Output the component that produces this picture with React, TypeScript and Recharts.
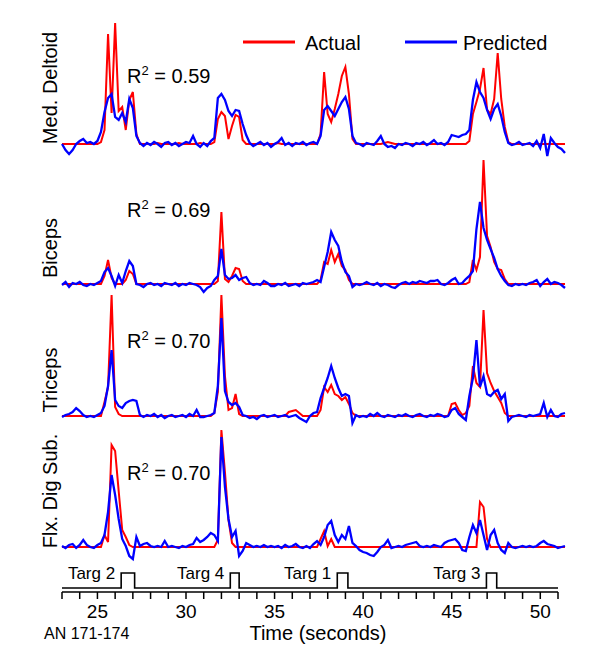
import { LineChart, Line, XAxis, YAxis, ReferenceDot } from 'recharts';

const FONT = "'Liberation Sans', Arial, Helvetica, sans-serif";

// sample times (s)
const TIME = [
  23.0, 23.2, 23.4, 23.6, 23.8, 24.0, 24.2, 24.4, 24.6, 24.8,
  25.0, 25.2, 25.4, 25.6, 25.8, 26.0, 26.2, 26.4, 26.6, 26.8,
  27.0, 27.2, 27.4, 27.6, 27.8, 28.0, 28.2, 28.4, 28.6, 28.8,
  29.0, 29.2, 29.4, 29.6, 29.8, 30.0, 30.2, 30.4, 30.6, 30.8,
  31.0, 31.2, 31.4, 31.6, 31.8, 32.0, 32.2, 32.4, 32.6, 32.8,
  33.0, 33.2, 33.4, 33.6, 33.8, 34.0, 34.2, 34.4, 34.6, 34.8,
  35.0, 35.2, 35.4, 35.6, 35.8, 36.0, 36.2, 36.4, 36.6, 36.8,
  37.0, 37.2, 37.4, 37.6, 37.8, 38.0, 38.2, 38.4, 38.6, 38.8,
  39.0, 39.2, 39.4, 39.6, 39.8, 40.0, 40.2, 40.4, 40.6, 40.8,
  41.0, 41.2, 41.4, 41.6, 41.8, 42.0, 42.2, 42.4, 42.6, 42.8,
  43.0, 43.2, 43.4, 43.6, 43.8, 44.0, 44.2, 44.4, 44.6, 44.8,
  45.0, 45.2, 45.4, 45.6, 45.8, 46.0, 46.2, 46.4, 46.6, 46.8,
  47.0, 47.2, 47.4, 47.6, 47.8, 48.0, 48.2, 48.4, 48.6, 48.8,
  49.0, 49.2, 49.4, 49.6, 49.8, 50.0, 50.2, 50.4, 50.6, 50.8,
  51.0, 51.2, 51.4,
];

// Med. Deltoid
const DELTOID_ACTUAL = [
  0, 0, 0, 0, 0, 0, 0, 0, 0, 0,
  0, 2, 14, 110, 31, 121, 33, 37, 14, 44,
  52, 10, 0, 0, 0, 0, 0, 1, 0, 0,
  0, 0, 0, 1, 0, 0, 0, 0, 0, 1,
  0, 0, 0, 2, 25, 32, 28, 5, 18, 29,
  27, 4, 0, 0, 0, 0, 0, 0, 0, 0,
  0, 1, 0, 0, 0, 0, 0, 0, 0, 0,
  0, 0, 0, 10, 72, 30, 22, 35, 50, 68,
  77, 50, 5, 0, 0, 0, 0, 0, 0, 0,
  0, 1, 2, 1, 0, 0, 0, 0, 0, 0,
  0, 0, 0, 0, 0, 0, 0, 0, 0, 0,
  0, 0, 0, 0, 0, 3, 30, 42, 55, 76,
  34, 30, 45, 91, 45, 17, 2, 0, 0, 0,
  0, 0, 0, 0, 0, 0, 0, 0, 0, 0,
  0, 0, 0,
];
const DELTOID_PREDICTED = [
  0, -6, -10, -6, 0, 3, 5, 1, 2, 0,
  3, 12, 32, 46, 50, 27, 24, 31, 22, 45,
  36, 8, 1, -2, 1, -1, 2, 0, -3, 1,
  2, -1, 1, -2, 0, 2, 1, 8, 0, -3,
  1, -2, 3, 6, 46, 50, 44, 33, 28, 34,
  33, 20, 9, 1, -2, 0, 2, -1, 1, -3,
  0, 2, 6, -1, 1, -2, 1, 0, 2, -1,
  1, 2, 0, 8, 34, 38, 33, 28, 35, 42,
  47, 35, 8, 1, 0, -2, 1, 0, -1, 3,
  8, 0, -3, -2, -4, 0, -1, 1, 0, -2,
  1, 0, 2, -1, 1, 4, 0, 1, -1, 2,
  9, 8, 7, 9, 10, 14, 44, 62, 52, 46,
  34, 25, 35, 40, 28, 12, 1, -1, 0, 2,
  -1, 0, 1, -2, 3, -4, 10, -12, 6, 1,
  -3, -5, -9,
];

// Biceps
const BICEPS_ACTUAL = [
  0, 0, 0, 0, 0, 0, 0, 0, 0, 0,
  0, 0, 8, 24, 6, 0, 0, 0, 4, 13,
  10, 0, 0, 0, 0, 0, 0, 0, 0, 0,
  0, 0, 0, 0, 0, 0, 0, 0, 0, 0,
  0, 0, 0, 0, 3, 72, 5, 2, 8, 16,
  15, 3, 0, 0, 0, 0, 0, 0, 0, 0,
  0, 0, 0, 0, 0, 0, 0, 0, 0, 0,
  0, 0, 0, 4, 22, 20, 34, 22, 30, 18,
  14, 4, 0, 0, 0, 0, 0, 0, 0, 0,
  0, 0, 0, 0, 0, 0, 0, 0, 0, 0,
  0, 0, 0, 0, 0, 0, 0, 0, 0, 0,
  0, 0, 0, 0, 0, 2, 24, 14, 27, 124,
  48, 37, 22, 15, 14, 5, 0, 0, 0, 0,
  0, 0, 0, 0, 0, 0, 0, 0, 0, 0,
  0, 0, 0,
];
const BICEPS_PREDICTED = [
  -1, 2, -3, 1, 0, 2, -1, -2, 0, -1,
  1, 3, 12, 16, 8, -2, 9, 1, 13, 23,
  18, 0, -1, -3, 0, 1, -1, 0, -2, 1,
  0, -1, 1, -2, 0, -1, 1, 0, -1, -3,
  -8, -4, -2, 4, 8, 35, 9, 5, 6, 9,
  4, 6, 7, 1, -1, 0, -1, 3, 1, -2,
  -2, 0, -1, 1, -2, -1, 0, -2, 1, 0,
  1, 2, 4, 2, 17, 32, 52, 44, 38, 22,
  12, 8, -3, 0, -1, 0, 2, 0, -1, 1,
  -2, 0, -1, -3, -4, -1, 1, 2, 0, 2,
  1, 3, 2, 1, 3, 3, 4, 0, -1, 1,
  4, 6, 0, 1, 5, 8, 13, 55, 82, 56,
  44, 35, 26, 15, 8, 3, -1, -2, 0, -1,
  0, -1, 1, 2, 4, -2, 2, 5, 0, 2,
  1, -1, -4,
];

// Triceps
const TRICEPS_ACTUAL = [
  0, 0, 0, 0, 0, 0, 0, 0, 0, 0,
  0, 0, 14, 29, 121, 9, 2, 0, 0, 0,
  0, 0, 0, 0, 0, 0, 0, 0, 0, 0,
  0, 0, 0, 0, 0, 0, 0, 0, 0, 0,
  0, 0, 0, 3, 24, 121, 40, 6, 8, 22,
  2, 0, 0, 0, 0, 0, 0, 0, 0, 0,
  0, 0, 0, 0, 4, 5, 6, 3, 0, 0,
  0, 0, 0, 6, 29, 24, 31, 22, 20, 16,
  19, 12, 3, 0, 0, 0, 0, 0, 0, 0,
  0, 0, 0, 0, 0, 0, 0, 0, 0, 0,
  0, 0, 0, 0, 0, 0, 0, 0, 0, 0,
  12, 13, 6, 1, 3, 10, 50, 33, 29, 106,
  43, 33, 25, 19, 13, 3, 0, 0, 0, 0,
  0, 0, 0, 0, 0, 0, 0, 0, 0, 0,
  0, 0, 0,
];
const TRICEPS_PREDICTED = [
  -1, 1, 2, 4, 8, 5, 1, -1, 0, -1,
  1, 3, 10, 30, 66, 16, 10, 8, 13, 15,
  16, 15, 1, -1, 1, 0, 2, -1, 1, -2,
  0, 1, -1, 0, 1, -1, 2, 0, 6, -1,
  -1, 0, 1, 3, 30, 98, 25, 14, 11, 13,
  9, 1, 0, -2, -1, -3, 0, 1, -1, 0,
  1, -1, 0, 1, -1, 0, 1, -2, -4, -6,
  0, 3, 4, 18, 28, 38, 50, 38, 28, 20,
  22, 20, -7, 1, -1, 0, -1, 2, 0, 3,
  0, -1, 1, 0, -1, 1, 0, 2, 0, -1,
  1, 2, 0, -1, 1, 0, 2, 1, -1, 0,
  6, 8, 2, -1, -4, 20, 38, 76, 29, 40,
  22, 20, 24, 26, 17, 22, -5, -1, 0, 1,
  0, -1, 1, 0, 1, 2, 13, -1, 6, 0,
  -1, 2, 3,
];

// Flx. Dig Sub.
const FDS_ACTUAL = [
  0, 0, 0, 0, 0, 0, 0, 0, 0, 0,
  0, 0, 12, 5, 102, 96, 56, 17, 10, 2,
  0, 0, 0, 0, 0, 0, 0, 0, 0, 0,
  0, 0, 0, 0, 0, 0, 0, 0, 0, 0,
  0, 0, 0, 0, 7, 117, 75, 27, 4, 0,
  0, 0, 0, 0, 0, 0, 0, 0, 0, 0,
  0, 0, 0, 0, 0, 0, 0, 0, 0, 0,
  0, 0, 0, 8, 16, 1, 8, 0, 0, 0,
  0, 0, 0, 0, 0, 0, 0, 0, 0, 0,
  0, 0, 0, 0, 0, 0, 0, 0, 0, 0,
  0, 0, 0, 0, 0, 0, 0, 0, 0, 0,
  0, 0, 0, 0, 0, 0, 0, 0, 45, 40,
  8, 0, 0, 0, 0, 0, 0, 0, 0, 0,
  0, 0, 0, 0, 0, 0, 0, 0, 0, 0,
  0, 0, 0,
];
const FDS_PREDICTED = [
  1, -1, 2, 3, -1, 2, 7, 2, 0, -1,
  2, 4, 12, 35, 72, 52, 28, 8, 1, -9,
  -12, 10, 1, 3, 4, 1, 0, 1, 0, 6,
  0, 1, 0, -1, 1, 0, 2, 3, 9, 5,
  7, 10, 14, 12, 6, 110, 60, 28, 10, 16,
  -9, -4, 4, 2, 0, 1, 0, 2, 0, 1,
  0, 1, -1, 2, 0, 1, 3, 0, -1, 1,
  -1, 3, 6, 2, 10, 22, 26, 12, 5, 12,
  8, 21, 4, 1, -3, -5, -6, -8, -9, -5,
  0, 2, 7, -1, 0, 1, 0, 2, 3, 4,
  5, 1, 0, 1, 0, 2, 1, 0, 4, 6,
  7, 8, 4, -3, -4, 10, 22, 14, 27, 12,
  -3, 12, 17, 4, -3, -6, 4, 0, -1, 0,
  1, 0, 1, 0, 1, 4, 6, 3, 2, 1,
  -1, 0, 1,
];

// target step trace
const TARGET_T = [23, 26.34, 27.1, 32.5, 33.0, 38.54, 39.14, 46.96, 47.54, 51];
const TARGET_ON = [0, 1, 0, 1, 0, 1, 0, 1, 0, 0];
const TARGET_NAMES = ['Targ 2', 'Targ 4', 'Targ 1', 'Targ 3'];
const TARGET_ONSETS = [26.34, 32.5, 38.54, 46.96];

const AXIS_TICKS = [23, 24, 25, 26, 27, 28, 29, 30, 31, 32, 33, 34, 35, 36, 37, 38, 39, 40, 41, 42, 43, 44, 45, 46, 47, 48, 49, 50, 51];

const MUSCLES = ['Med. Deltoid', 'Biceps', 'Triceps', 'Flx. Dig Sub.'];
const R2 = ['0.59', '0.69', '0.70', '0.70'];

function Panel({ actual, predicted, top, lo, hi }: { actual: number[]; predicted: number[]; top: number; lo: number; hi: number }) {
  const rows = TIME.map((t, i) => ({ t, actual: actual[i], predicted: predicted[i] }));
  const h = hi - lo;
  return (
    <div style={{ position: 'absolute', left: 0, top, width: 600, height: h }}>
      <LineChart width={600} height={h} data={rows} margin={{ top: 0, right: 35, bottom: 0, left: 62 }}>
        <XAxis dataKey="t" type="number" domain={[23, 51.4]} hide />
        <YAxis type="number" domain={[lo, hi]} hide />
        <Line dataKey="actual" stroke="#ff0000" strokeWidth={2} dot={false} isAnimationActive={false} />
        <Line dataKey="predicted" stroke="#0000ff" strokeWidth={2.3} dot={false} isAnimationActive={false} />
      </LineChart>
    </div>
  );
}

export default function App() {
  const targetRows = TARGET_T.map((t, i) => ({ t, on: TARGET_ON[i] }));
  const labelY = [88, 248, 380, 491];
  const r2Y = [83, 217, 348, 480];

  return (
    <div style={{ position: 'absolute', left: 0, top: 0, width: 600, height: 652, background: '#fff', fontFamily: FONT }}>
      <Panel actual={DELTOID_ACTUAL} predicted={DELTOID_PREDICTED} top={19} lo={-15} hi={125} />
      <Panel actual={BICEPS_ACTUAL} predicted={BICEPS_PREDICTED} top={156} lo={-12} hi={128} />
      <Panel actual={TRICEPS_ACTUAL} predicted={TRICEPS_PREDICTED} top={291} lo={-12} hi={125} />
      <Panel actual={FDS_ACTUAL} predicted={FDS_PREDICTED} top={427} lo={-15} hi={120} />

      <div style={{ position: 'absolute', left: 0, top: 560, width: 600, height: 72 }}>
        <LineChart width={600} height={72} data={targetRows} margin={{ top: 13, right: 42, bottom: 0, left: 62 }}>
          <XAxis
            dataKey="t"
            type="number"
            domain={[23, 51]}
            ticks={AXIS_TICKS}
            interval={0}
            height={40}
            tickSize={7}
            tickMargin={6}
            tickFormatter={(v: number) => (v % 5 === 0 ? String(v) : '')}
            stroke="#000"
            strokeWidth={1.5}
            tick={{ fill: '#000', fontSize: 19, fontFamily: FONT }}
          />
          <YAxis type="number" domain={[-0.267, 1]} hide />
          <Line dataKey="on" type="stepAfter" stroke="#000" strokeWidth={1.6} dot={false} isAnimationActive={false} />
          {TARGET_NAMES.map((name, i) => (
            <ReferenceDot
              key={name}
              x={TARGET_ONSETS[i]}
              y={1}
              r={0}
              label={{ value: name, position: 'left', offset: 6, fill: '#000', fontSize: 17, fontFamily: FONT }}
            />
          ))}
        </LineChart>
      </div>

      <svg width={600} height={652} style={{ position: 'absolute', left: 0, top: 0, pointerEvents: 'none' }} fontFamily={FONT}>
        {MUSCLES.map((m, i) => (
          <text key={m} x={57} y={labelY[i]} transform={`rotate(-90, 57, ${labelY[i]})`} textAnchor="middle" fontSize={20} fill="#000">
            {m}
          </text>
        ))}
        {R2.map((r, i) => (
          <text key={i} x={127} y={r2Y[i]} fontSize={20} fill="#000">
            R<tspan fontSize={13} dy={-8}>2</tspan>
            <tspan dy={8}> = {r}</tspan>
          </text>
        ))}
        <line x1={243} x2={295} y1={42} y2={42} stroke="#ff0000" strokeWidth={3} />
        <text x={305} y={50} fontSize={20} fill="#000">Actual</text>
        <line x1={405} x2={457} y1={42} y2={42} stroke="#0000ff" strokeWidth={3} />
        <text x={463} y={50} fontSize={20} fill="#000">Predicted</text>
        <text x={44} y={639} fontSize={16} fill="#000">AN 171-174</text>
        <text x={318} y={640} fontSize={20} fill="#000" textAnchor="middle">Time (seconds)</text>
      </svg>
    </div>
  );
}
